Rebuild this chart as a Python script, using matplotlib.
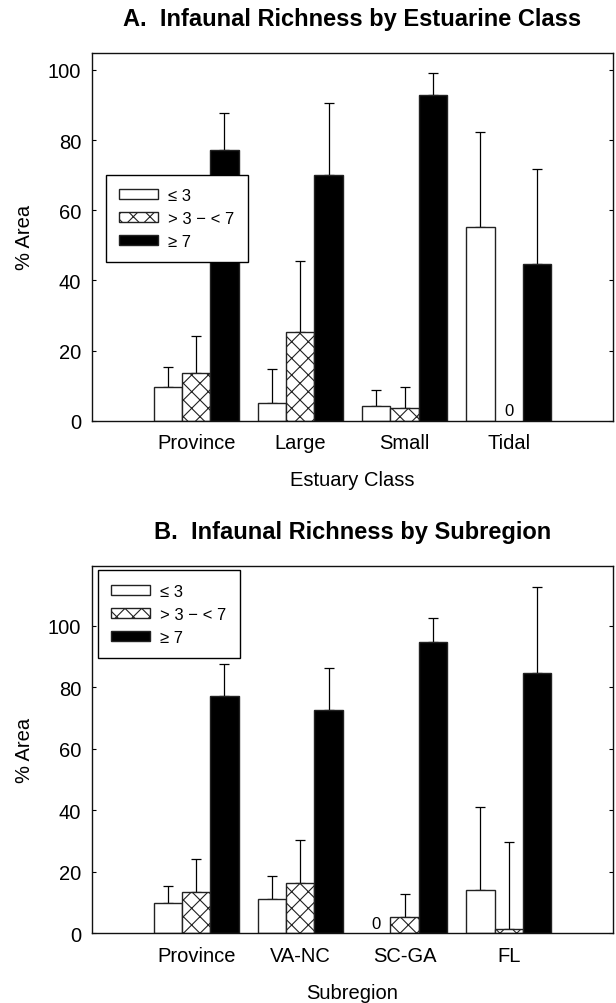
import matplotlib
matplotlib.use("Agg")
import matplotlib.pyplot as plt
from matplotlib.patches import Patch
import numpy as np

plt.rcParams['font.family'] = ['Liberation Sans', 'DejaVu Sans']
plt.rcParams['hatch.linewidth'] = 0.8
plt.rcParams['hatch.color'] = '#111111'

# Richness classes
classes = ["\u2264 3", "> 3 \u2212 < 7", "\u2265 7"]

# Panel A: estuary classes
estuary_classes = ["Province", "Large", "Small", "Tidal"]
est_low = [9.7, 5.0, 4.1, 55.2]
est_mid = [13.5, 25.2, 3.5, 0.0]
est_high = [77.1, 70.0, 92.7, 44.7]
est_low_upper = [15.2, 14.8, 8.8, 82.3]
est_mid_upper = [24.1, 45.6, 9.7, None]
est_high_upper = [87.7, 90.6, 99.0, 71.8]

# Panel B: subregions
subregions = ["Province", "VA-NC", "SC-GA", "FL"]
sub_low = [9.8, 11.2, 0.0, 14.0]
sub_mid = [13.3, 16.5, 5.4, 1.5]
sub_high = [77.1, 72.7, 94.9, 84.7]
sub_low_upper = [15.3, 18.8, None, 41.0]
sub_mid_upper = [24.1, 30.5, 12.9, 29.7]
sub_high_upper = [87.7, 86.4, 102.5, 112.8]

styles = [dict(facecolor="white", hatch=None),
          dict(facecolor="white", hatch="xx"),
          dict(facecolor="black", hatch=None)]
EDGE = "#222222"
WIDTH = 0.27


def panel(ax, cats, series, uppers, title, xlabel, ymax, ticks, legend_anchor):
    x = np.arange(1, len(cats) + 1)
    for i, (vals, ups) in enumerate(zip(series, uppers)):
        pos = x + (i - 1) * WIDTH
        st = styles[i]
        for p, v, u in zip(pos, vals, ups):
            if v > 0:
                ax.bar(p, v, width=WIDTH, facecolor=st["facecolor"],
                       hatch=st["hatch"], edgecolor=EDGE, linewidth=1.0,
                       zorder=2)
            else:
                ax.text(p, v + ymax * 0.027, "0", ha="center", va="center",
                        fontsize=12, zorder=3)
            if u is not None and v > 0:
                ax.errorbar(p, v, yerr=[[0], [u - v]], fmt="none",
                            ecolor="black", elinewidth=0.9, capsize=3.3,
                            capthick=0.9, zorder=1)
    ax.set_xlim(0, len(cats) + 1)
    ax.set_ylim(0, ymax)
    ax.set_xticks(x)
    ax.set_xticklabels(cats, fontsize=14.5)
    ax.tick_params(axis="x", length=0, pad=9)
    ax.set_yticks(ticks)
    ax.tick_params(axis="y", which="both", left=True, right=True,
                   direction="in", length=3.2, labelsize=14.5, pad=8)
    for s in ax.spines.values():
        s.set_linewidth(1.0)
        s.set_color("#111111")
    ax.set_ylabel("% Area", fontsize=14.5, labelpad=10)
    ax.set_xlabel(xlabel, fontsize=14.5, labelpad=13)
    ax.set_title(title, fontsize=17, fontweight="bold", pad=20)

    handles = [Patch(facecolor=st["facecolor"], hatch=st["hatch"],
                     edgecolor=EDGE, linewidth=1.0) for st in styles]
    leg = ax.legend(handles, classes, loc="upper left",
                    bbox_to_anchor=legend_anchor, borderaxespad=0,
                    fontsize=12, handlelength=2.34, handleheight=0.54,
                    handletextpad=0.6, labelspacing=0.48, borderpad=0.8,
                    fancybox=False, framealpha=1, edgecolor="black")
    leg.get_frame().set_linewidth(1.0)
    leg.set_zorder(5)


fig = plt.figure(figsize=(6.16, 10.04), dpi=100)
axA = fig.add_axes([0.1498, 0.5800, 0.8448, 0.3662])
axB = fig.add_axes([0.1498, 0.0694, 0.8448, 0.3661])

panel(axA, estuary_classes, [est_low, est_mid, est_high],
      [est_low_upper, est_mid_upper, est_high_upper],
      "A.  Infaunal Richness by Estuarine Class", "Estuary Class",
      104.8, [0, 20, 40, 60, 80, 100], (0.0263, 0.669))
panel(axB, subregions, [sub_low, sub_mid, sub_high],
      [sub_low_upper, sub_mid_upper, sub_high_upper],
      "B.  Infaunal Richness by Subregion", "Subregion",
      119.6, [0, 20, 40, 60, 80, 100], (0.0110, 0.988))

fig.savefig("out.png", dpi=100)
